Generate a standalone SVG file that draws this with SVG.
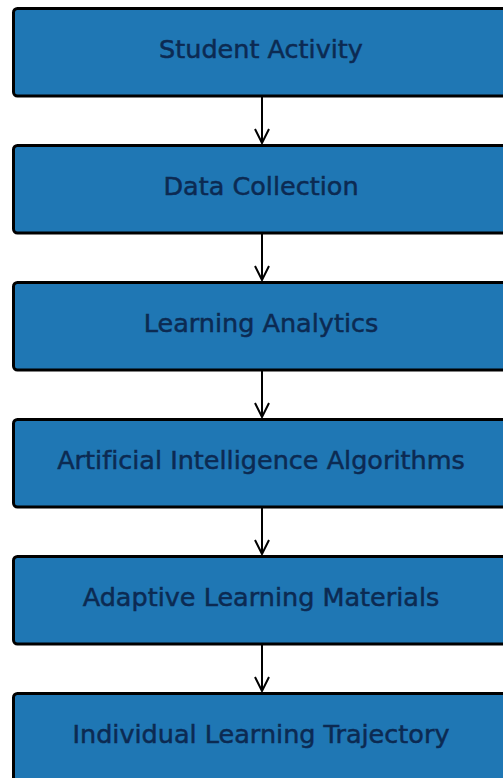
<svg xmlns="http://www.w3.org/2000/svg" width="503" height="778" viewBox="0 0 503 778">
  <defs>
    <style>
      .box { fill: #1f77b4; stroke: #000; stroke-width: 3; }
      .label { font-family: "DejaVu Sans", sans-serif; font-size: 25.5px; fill: #0c2a52; stroke: #0c2a52; stroke-width: 0.5; text-anchor: middle; font-variant-ligatures: none; }
      .edge { stroke: #000; stroke-width: 2; fill: none; }
    </style>
    <marker id="arrow" viewBox="0 0 16 16" refX="15" refY="8" markerWidth="16" markerHeight="16" markerUnits="userSpaceOnUse" orient="auto">
      <path d="M1,1 L15,8 L1,15" fill="none" stroke="#000" stroke-width="2"/>
    </marker>
  </defs>
  <rect width="503" height="778" fill="#fff"/>
  <g id="connectors">
    <line class="edge" x1="262" y1="97" x2="262" y2="143" marker-end="url(#arrow)"/>
    <line class="edge" x1="262" y1="234" x2="262" y2="280" marker-end="url(#arrow)"/>
    <line class="edge" x1="262" y1="371" x2="262" y2="417" marker-end="url(#arrow)"/>
    <line class="edge" x1="262" y1="508" x2="262" y2="554" marker-end="url(#arrow)"/>
    <line class="edge" x1="262" y1="645" x2="262" y2="691" marker-end="url(#arrow)"/>
  </g>
  <g id="student-activity">
    <rect class="box" x="13.5" y="8.5" width="498" height="87.5" rx="4"/>
    <text class="label" x="261" y="58">Student Activity</text>
  </g>
  <g id="data-collection">
    <rect class="box" x="13.5" y="145.5" width="498" height="87.5" rx="4"/>
    <text class="label" x="261" y="195">Data Collection</text>
  </g>
  <g id="learning-analytics">
    <rect class="box" x="13.5" y="282.5" width="498" height="87.5" rx="4"/>
    <text class="label" x="261" y="332">Learning Analytics</text>
  </g>
  <g id="ai-algorithms">
    <rect class="box" x="13.5" y="419.5" width="498" height="87.5" rx="4"/>
    <text class="label" x="261" y="469">Artificial Intelligence Algorithms</text>
  </g>
  <g id="adaptive-materials">
    <rect class="box" x="13.5" y="556.5" width="498" height="87.5" rx="4"/>
    <text class="label" x="261" y="606">Adaptive Learning Materials</text>
  </g>
  <g id="learning-trajectory">
    <rect class="box" x="13.5" y="693.5" width="498" height="87.5" rx="4"/>
    <text class="label" x="261" y="743">Individual Learning Trajectory</text>
  </g>
</svg>
